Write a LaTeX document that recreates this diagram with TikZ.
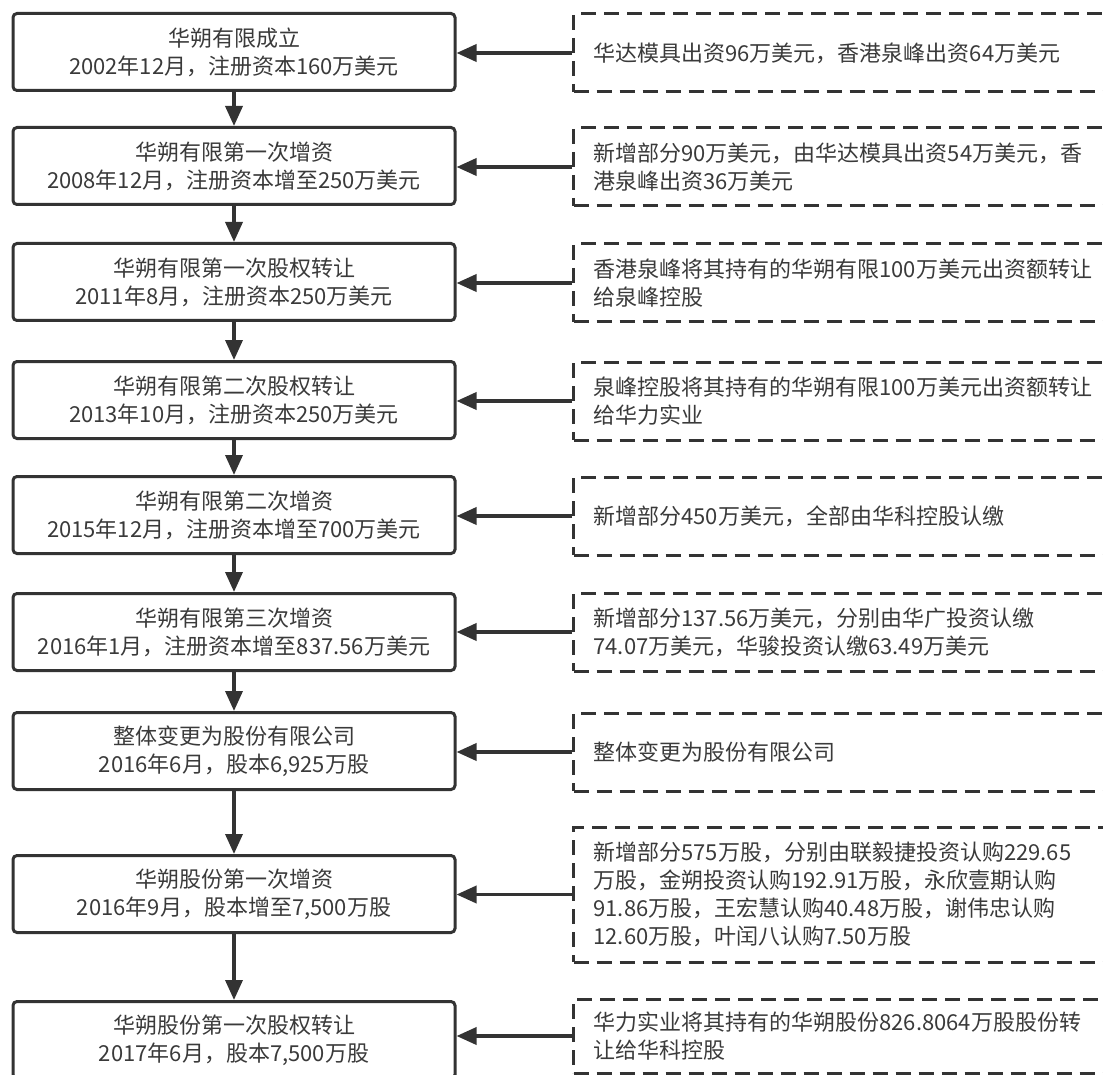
\documentclass[tikz,border=0pt]{standalone}
\usepackage{fontspec}
\setmainfont{Noto Sans CJK SC}
\usetikzlibrary{positioning,arrows.meta}
\definecolor{linegray}{HTML}{333333}
\definecolor{textgray}{HTML}{3A3A3A}
\tikzset{
  stage/.style={draw=linegray, line width=3pt, rounded corners=4pt, fill=white,
    minimum width=442pt, minimum height=77pt, inner sep=0pt, align=center,
    text=textgray, font=\fontsize{22}{28}\selectfont},
  detail/.style={draw=linegray, line width=3pt, dash pattern=on 15pt off 8pt,
    anchor=west, minimum width=570pt, minimum height=78pt, text width=530pt,
    inner xsep=18pt, inner ysep=0pt, align=left,
    text=textgray, font=\fontsize{22}{28}\selectfont},
  flow/.style={draw=linegray, line width=3.5pt, -{Triangle[length=20pt,width=17pt]}},
}
\begin{document}
\begin{tikzpicture}[x=1pt,y=-1pt]
    \useasboundingbox (0,0) rectangle (1103,1075);
    \clip (0,0) rectangle (1103,1075);

    % stages of the company
    \node[stage] (s1) at (234,52) {华朔有限成立\\2002年12月，注册资本160万美元};
    \node[stage] (s2) at (234,166) {华朔有限第一次增资\\2008年12月，注册资本增至250万美元};
    \node[stage] (s3) at (234,282) {华朔有限第一次股权转让\\2011年8月，注册资本250万美元};
    \node[stage] (s4) at (234,400) {华朔有限第二次股权转让\\2013年10月，注册资本250万美元};
    \node[stage] (s5) at (234,515) {华朔有限第二次增资\\2015年12月，注册资本增至700万美元};
    \node[stage] (s6) at (234,632) {华朔有限第三次增资\\2016年1月，注册资本增至837.56万美元};
    \node[stage] (s7) at (234,751) {整体变更为股份有限公司\\2016年6月，股本6,925万股};
    \node[stage] (s8) at (234,894) {华朔股份第一次增资\\2016年9月，股本增至7,500万股};
    \node[stage] (s9) at (234,1040) {华朔股份第一次股权转让\\2017年6月，股本7,500万股};

    % details
    \node[detail] (d1) at (572,53) {华达模具出资96万美元，香港泉峰出资64万美元};
    \node[detail] (d2) at (572,167) {新增部分90万美元，由华达模具出资54万美元，香\\港泉峰出资36万美元};
    \node[detail] (d3) at (572,283) {香港泉峰将其持有的华朔有限100万美元出资额转让\\给泉峰控股};
    \node[detail] (d4) at (572,401) {泉峰控股将其持有的华朔有限100万美元出资额转让\\给华力实业};
    \node[detail] (d5) at (572,516) {新增部分450万美元，全部由华科控股认缴};
    \node[detail] (d6) at (572,632) {新增部分137.56万美元，分别由华广投资认缴\\74.07万美元，华骏投资认缴63.49万美元};
    \node[detail] (d7) at (572,752) {整体变更为股份有限公司};
    \node[detail, minimum height=135pt] (d8) at (572,894.5) {新增部分575万股，分别由联毅捷投资认购229.65\\万股，金朔投资认购192.91万股，永欣壹期认购\\91.86万股，王宏慧认购40.48万股，谢伟忠认购\\12.60万股，叶闰八认购7.50万股};
    \node[detail, minimum height=74pt] (d9) at (572,1036) {华力实业将其持有的华朔股份826.8064万股股份转\\让给华科控股};

    \foreach \a/\b in {s1/s2,s2/s3,s3/s4,s4/s5,s5/s6,s6/s7,s7/s8,s8/s9}
        \draw[flow] (\a) -- (\b);
    \foreach \i in {1,...,9}
        \draw[flow] (d\i.west) -- (d\i.west -| s\i.east);
\end{tikzpicture}
\end{document}
